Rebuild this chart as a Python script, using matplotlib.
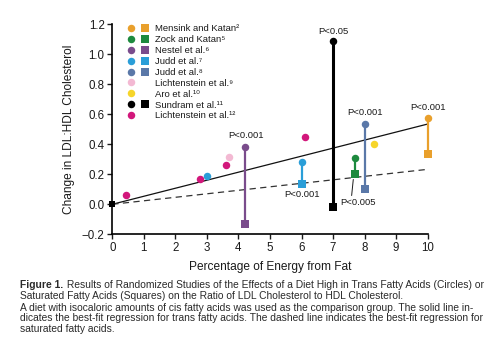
import matplotlib
matplotlib.use("Agg")
import matplotlib.pyplot as plt
from matplotlib.lines import Line2D
from matplotlib.legend_handler import HandlerTuple

plt.rcParams['font.family'] = ['Liberation Sans', 'DejaVu Sans']

# studies (legend order)
study_names = ['Mensink and Katan²', 'Zock and Katan⁵', 'Nestel et al.⁶', 'Judd et al.⁷',
               'Judd et al.⁸', 'Lichtenstein et al.⁹', 'Aro et al.¹⁰', 'Sundram et al.¹¹',
               'Lichtenstein et al.¹²']
study_colors = ['#E9A02C', '#1D8A3E', '#7A4C8C', '#2A9ED8', '#5A78A8', '#F3B9D3',
                '#F6D52A', '#000000', '#D2177B']

# trans fatty acids (circles), per study
circle_x = [[10.0], [7.7], [4.2], [3.0, 6.0], [8.0], [3.7], [8.3], [7.0], [0.42, 2.77, 3.6, 6.1]]
circle_y = [[0.573], [0.31], [0.385], [0.19, 0.28], [0.537], [0.315], [0.40], [1.09],
            [0.062, 0.167, 0.262, 0.45]]

# saturated fatty acids (squares), per study
square_x = [[10.0], [7.7], [4.2], [6.0], [8.0], [], [], [7.0], []]
square_y = [[0.337], [0.20], [-0.13], [0.137], [0.10], [], [], [-0.02], []]

# comparison group (origin)
origin_x, origin_y = 0.0, 0.0

# best-fit regression slopes through origin
trans_slope = 0.0535
sat_slope = 0.0233
fit_x = [0, 10]

# significance labels
p_text = ['P<0.05', 'P<0.001', 'P<0.001', 'P<0.001', 'P<0.001', 'P<0.005']
p_x = [7.0, 8.0, 10.0, 4.24, 6.0, 7.8]
p_y = [1.155, 0.61, 0.644, 0.457, 0.067, 0.01]

fig = plt.figure(figsize=(4.98, 3.53), dpi=100)
ax = fig.add_axes([0.2255, 0.3363, 0.6333, 0.5949])

ax.plot(fit_x, [trans_slope * x for x in fit_x], color='#111111', lw=0.9, zorder=2)
ax.plot(fit_x, [sat_slope * x for x in fit_x], color='#333333', lw=0.9,
        ls=(0, (5, 3.5)), zorder=2)

for i, col in enumerate(study_colors):
    # stems between circle and square at the same x
    for sx, sy in zip(square_x[i], square_y[i]):
        for cx, cy in zip(circle_x[i], circle_y[i]):
            if cx == sx:
                lw = 2.2 if col == '#000000' else 1.6
                ax.plot([cx, sx], [cy, sy], color=col, lw=lw, zorder=3,
                        solid_capstyle='butt', clip_on=False)
    ax.plot(circle_x[i], circle_y[i], 'o', color=col, ms=5.4, mew=0, zorder=4, clip_on=False)
    if square_x[i]:
        ax.plot(square_x[i], square_y[i], 's', color=col, ms=5.4, mew=0, zorder=4, clip_on=False)

ax.plot(origin_x, origin_y, 's', color='black', ms=4, mew=0, zorder=5, clip_on=False)

for t, x, y in zip(p_text, p_x, p_y):
    ax.text(x, y, t, ha='center', va='center', fontsize=6.8, color='#1a1a1a')
ax.annotate('', xy=(7.65, 0.184), xytext=(7.58, 0.04),
            arrowprops=dict(arrowstyle='-', color='#1a1a1a', lw=0.7))

ax.set_xlim(0, 10)
ax.set_ylim(-0.2, 1.2)
ax.set_xticks(range(0, 11))
ax.set_yticks([-0.2, 0.0, 0.2, 0.4, 0.6, 0.8, 1.0, 1.2])
ax.set_yticklabels(['\u22120.2', '0.0', '0.2', '0.4', '0.6', '0.8', '1.0', '1.2'])
ax.tick_params(direction='out', length=3.5, width=1, labelsize=8.3, pad=2, colors='#1a1a1a')
for s in ['top', 'right']:
    ax.spines[s].set_visible(False)
for s in ['left', 'bottom']:
    ax.spines[s].set_linewidth(1.2)
ax.set_xlabel('Percentage of Energy from Fat', fontsize=8.6, color='#1a1a1a', labelpad=5)
ax.set_ylabel('Change in LDL:HDL Cholesterol', fontsize=8.6, color='#1a1a1a', labelpad=5)

# legend: circle + square per study
handles = []
for i, col in enumerate(study_colors):
    c = Line2D([], [], marker='o', color=col, ls='none', ms=5.4, mew=0)
    if square_x[i]:
        s = Line2D([], [], marker='s', color=col, ls='none', ms=5.4, mew=0)
    else:
        s = Line2D([], [], ls='none')
    handles.append((c, s))
ax.legend(handles, study_names, handler_map={tuple: HandlerTuple(ndivide=2, pad=0)},
          loc='upper left', bbox_to_anchor=(0.039, 1.0), frameon=False, borderpad=0,
          borderaxespad=0, handlelength=2.9, handletextpad=0.3, labelspacing=0.2,
          fontsize=6.8, labelcolor='#1a1a1a')

# caption
cap_color = '#2a2a2a'
cap_fs = 7.35
x0 = 0.041
bold = fig.text(x0, 1 - 285.3 / 353, 'Figure 1.', fontsize=cap_fs, fontweight='bold',
                va='center', color=cap_color)
fig.add_artist(plt.Annotation(
    ' Results of Randomized Studies of the Effects of a Diet High in Trans Fatty Acids (Circles) or',
    xy=(1, 0.5), xycoords=bold, va='center', ha='left', fontsize=cap_fs, color=cap_color))
caption_lines = [
    'Saturated Fatty Acids (Squares) on the Ratio of LDL Cholesterol to HDL Cholesterol.',
    'A diet with isocaloric amounts of cis fatty acids was used as the comparison group. The solid line in-',
    'dicates the best-fit regression for trans fatty acids. The dashed line indicates the best-fit regression for',
    'saturated fatty acids.',
]
caption_y = [296.0, 307.7, 318.2, 328.7]
for line, y in zip(caption_lines, caption_y):
    fig.text(x0, 1 - y / 353, line, fontsize=cap_fs, va='center', color=cap_color)

fig.savefig('out.png', dpi=100)
